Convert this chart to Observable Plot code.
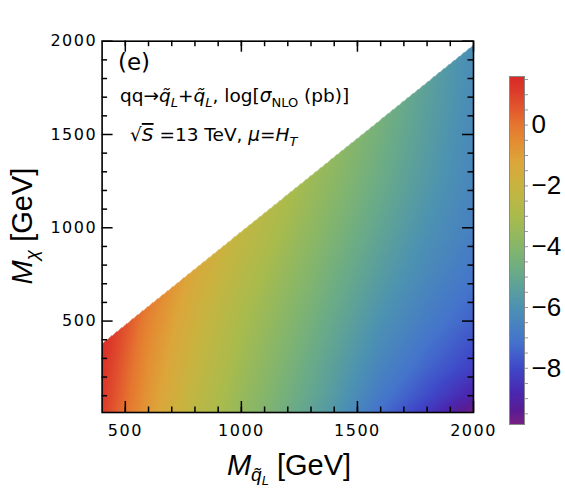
<!DOCTYPE html>
<html><head><meta charset="utf-8">
<script src="https://cdn.jsdelivr.net/npm/d3@7"></script>
<script src="https://cdn.jsdelivr.net/npm/@observablehq/plot@0.6"></script>
<style>
html,body{margin:0;padding:0;background:#fff;}
#wrap{position:relative;width:565px;height:502px;overflow:hidden;}
#wrap > svg{position:absolute;top:0;}
</style></head><body><div id="wrap"></div>
<script>
// squark mass columns (GeV)
const mqGrid = [400, 500, 600, 800, 1000, 1200, 1400, 1600, 1800, 2000];
// dark-matter mass rows (GeV), used below the kinematic edge
const mchiGrid = [10, 100, 250, 500, 750, 1000, 1250, 1500, 1750];
// log10 sigma_NLO (pb), per squark-mass column
const logSigma400  = [1.1, 1.2, 1.35];
const logSigma500  = [0.05, 0.2, 0.35];
const logSigma600  = [-0.9, -0.8, -0.65, -0.35];
const logSigma800  = [-2.4, -2.3, -2.1, -1.8, -1.4];
const logSigma1000 = [-3.6, -3.5, -3.3, -3.0, -2.6];
const logSigma1200 = [-4.7, -4.55, -4.35, -4.0, -3.6, -3.2];
const logSigma1400 = [-5.8, -5.6, -5.4, -5.0, -4.6, -4.2, -3.85];
const logSigma1600 = [-7.2, -6.9, -6.5, -6.0, -5.55, -5.15, -4.8, -4.55];
const logSigma1800 = [-8.4, -7.9, -7.4, -6.8, -6.35, -6.0, -5.7, -5.5, -5.35];
const logSigma2000 = [-9.8, -9.0, -8.2, -7.5, -7.0, -6.65, -6.45, -6.35, -6.25];
// value on the kinematic edge (Mchi = Mq - edgeGap) per column
const edgeLogSigma = [1.5, 0.65, -0.15, -1.3, -2.2, -2.95, -3.7, -4.5, -5.3, -6.2];
const edgeGap = 20;
const mchiMin = 10;

const xMajorTicks = [500, 1000, 1500, 2000];
const xMinorTicks = [500, 600, 700, 800, 900, 1000, 1100, 1200, 1300, 1400, 1500, 1600, 1700, 1800, 1900];
const yMajorTicks = [500, 1000, 1500, 2000];
const yMinorTicks = [100, 200, 300, 400, 600, 700, 800, 900, 1100, 1200, 1300, 1400, 1600, 1700, 1800, 1900];

const cbDomain = [-9.85, 1.6];
const cbMajorTicks = [-8, -6, -4, -2, 0];
const cbMinorTicks = [-9.5, -9, -8.5, -7.5, -7, -6.5, -5.5, -5, -4.5, -3.5, -3, -2.5, -1.5, -1, -0.5, 0.5, 1, 1.5];

// colour map (Mathematica-like "Rainbow") stops
const colorStopValues = [-9.85, -9.4, -8.8, -8.0, -7.1, -6.0, -4.9, -4.0, -3.0, -2.0, -1.2, -0.6, 0.0, 0.5, 1.1, 1.6];
const colorStopColors = ["#782080", "#5a1c94", "#4a28b0", "#3f48c8", "#4474cc", "#4c92b2", "#68aa8a", "#86b66a",
                         "#aabb4c", "#c8b440", "#dca63a", "#e38f33", "#e5762f", "#e25a2e", "#dc3c2a", "#d92b27"];

const columns = [logSigma400, logSigma500, logSigma600, logSigma800, logSigma1000, logSigma1200,
                 logSigma1400, logSigma1600, logSigma1800, logSigma2000];

// per column: profile along s = (Mchi - min)/(edge - min)
const profiles = columns.map((vals, i) => {
  const edge = mqGrid[i] - edgeGap;
  const s = vals.map((v, j) => (mchiGrid[j] - mchiMin) / (edge - mchiMin));
  return {s: [...s, 1], v: [...vals, edgeLogSigma[i]]};
});
function evalProfile(p, s) {
  const n = p.s.length;
  if (s <= p.s[0]) return p.v[0];
  if (s >= p.s[n - 1]) return p.v[n - 1];
  let k = d3.bisectRight(p.s, s) - 1;
  k = Math.max(0, Math.min(n - 2, k));
  const t = (s - p.s[k]) / (p.s[k + 1] - p.s[k]);
  return p.v[k] + t * (p.v[k + 1] - p.v[k]);
}
function logSigmaAt(x, y) {
  if (y > x - edgeGap) return NaN;
  let i = d3.bisectRight(mqGrid, x) - 1;
  i = Math.max(0, Math.min(mqGrid.length - 2, i));
  const t = Math.max(0, Math.min(1, (x - mqGrid[i]) / (mqGrid[i + 1] - mqGrid[i])));
  const s = (y - mchiMin) / ((x - edgeGap) - mchiMin);
  const a = evalProfile(profiles[i], s), b = evalProfile(profiles[i + 1], s);
  return a + t * (b - a);
}

const colorScale = {type: "linear", domain: colorStopValues, range: colorStopColors, clamp: true, interpolate: "rgb"};
const plain = d => String(d);

// layout
const W = 565, H = 502, mL = 101.6, mR = 92, mT = 40.7, mB = 90;
const frameW = W - mL - mR, frameH = H - mT - mB;
const majorLen = 11, minorLen = 5.5;
const tickStyle = {stroke: "#000", strokeWidth: 1.5};

const main = Plot.plot({
  width: W, height: H,
  marginLeft: mL, marginRight: mR, marginTop: mT, marginBottom: mB,
  style: {fontFamily: "DejaVu Sans", fontSize: "16px", color: "#000", background: "transparent"},
  x: {domain: [400, 2000]},
  y: {domain: [mchiMin, 2000]},
  color: colorScale,
  marks: [
    Plot.raster({x1: 400, x2: 2000, y1: mchiMin, y2: 2000, fill: logSigmaAt, pixelSize: 1}),
    // inward ticks on all four sides
    Plot.tickX(xMinorTicks, {x: d => d, insetTop: frameH - minorLen, ...tickStyle}),
    Plot.tickX(xMajorTicks, {x: d => d, insetTop: frameH - majorLen, ...tickStyle}),
    Plot.tickX(xMinorTicks, {x: d => d, insetBottom: frameH - minorLen, ...tickStyle}),
    Plot.tickX(xMajorTicks, {x: d => d, insetBottom: frameH - majorLen, ...tickStyle}),
    Plot.tickY(yMinorTicks, {y: d => d, insetRight: frameW - minorLen, ...tickStyle}),
    Plot.tickY(yMajorTicks, {y: d => d, insetRight: frameW - majorLen, ...tickStyle}),
    Plot.tickY(yMinorTicks, {y: d => d, insetLeft: frameW - minorLen, ...tickStyle}),
    Plot.tickY(yMajorTicks, {y: d => d, insetLeft: frameW - majorLen, ...tickStyle}),
    Plot.axisX({anchor: "bottom", ticks: xMajorTicks, tickSize: 0, tickPadding: 12, tickFormat: plain, label: null, fontSize: 16}),
    Plot.axisY({anchor: "left", ticks: yMajorTicks, tickSize: 0, tickPadding: 5, tickFormat: plain, label: null, fontSize: 16}),
    Plot.frame({stroke: "#000", strokeWidth: 1.6})
  ]
});

const cbar = Plot.plot({
  width: 85, height: H,
  marginLeft: 29, marginRight: 41, marginTop: 76, marginBottom: 78,
  style: {fontFamily: "Liberation Sans", color: "#000", background: "transparent"},
  x: {domain: [0, 1], axis: null},
  y: {domain: cbDomain},
  color: colorScale,
  marks: [
    Plot.raster({x1: 0, x2: 1, y1: cbDomain[0], y2: cbDomain[1], fill: (x, y) => y, pixelSize: 1}),
    Plot.frame({stroke: "#888", strokeWidth: 1}),
    Plot.axisY({anchor: "right", ticks: cbMinorTicks, tickSize: 3, stroke: "#999", tickFormat: () => "", label: null}),
    Plot.axisY({anchor: "right", ticks: cbMajorTicks, tickSize: 3, tickPadding: 4, stroke: "#999", fill: "#000",
                fontSize: 26, label: null, tickFormat: d => d < 0 ? "\u2212" + (-d) : String(d)})
  ]
});

const wrap = document.getElementById("wrap");
main.style.left = "0px";
cbar.style.left = "480px";
wrap.appendChild(main);
wrap.appendChild(cbar);

d3.select(main).selectAll('[aria-label="x-axis tick label"] text, [aria-label="y-axis tick label"] text')
  .style("letter-spacing", "1.5px");

// rich text helper (subscripts / italics as tspans)
function rich(g, x, y, size, parts, attrs = {}) {
  const t = g.append("text").attr("x", x).attr("y", y).attr("font-size", size).attr("text-anchor", "start");
  for (const k in attrs) t.attr(k, attrs[k]);
  let shift = 0;
  for (const p of parts) {
    const s = p.sub || 0;
    const ts = t.append("tspan").attr("dy", s - shift).text(p.t);
    shift = s;
    if (p.it) ts.attr("font-style", "italic");
    if (p.fs) ts.attr("font-size", p.fs);
    if (p.over) ts.attr("text-decoration", "overline");
  }
  return t;
}

const svg = d3.select(main);
const ann = svg.append("g").attr("font-family", "DejaVu Sans").attr("fill", "#000").attr("text-anchor", "start");
rich(ann, 118, 70, 23, [{t: "(e)"}]);
rich(ann, 120, 102, 18.5, [
  {t: "qq\u2192"}, {t: "q\u0303", it: true}, {t: "L", it: true, sub: 4.5, fs: 13}, {t: "+"},
  {t: "q\u0303", it: true}, {t: "L", it: true, sub: 4.5, fs: 13}, {t: ", log["},
  {t: "\u03C3", it: true}, {t: "NLO", sub: 4.5, fs: 13}, {t: " (pb)]"}
]);
rich(ann, 130, 141, 18.5, [
  {t: "\u221A"}, {t: "S", it: true, over: true}, {t: " =13 TeV, "}, {t: "\u03BC", it: true}, {t: "="},
  {t: "H", it: true}, {t: "T", it: true, sub: 4.5, fs: 13}
]);
// axis titles
const titles = svg.append("g").attr("font-family", "Liberation Sans").attr("fill", "#000");
rich(titles, 289, 475, 29, [
  {t: "M", it: true}, {t: "q\u0303", it: true, sub: 6, fs: 19}, {t: "L", it: true, sub: 10, fs: 13}, {t: " [GeV]"}
], {"text-anchor": "middle"});
rich(titles, 0, 0, 29, [
  {t: "M", it: true}, {t: "\u03C7", it: true, sub: 6, fs: 19}, {t: " [GeV]"}
], {"text-anchor": "middle", transform: "translate(32,226) rotate(-90)"});
</script></body></html>
